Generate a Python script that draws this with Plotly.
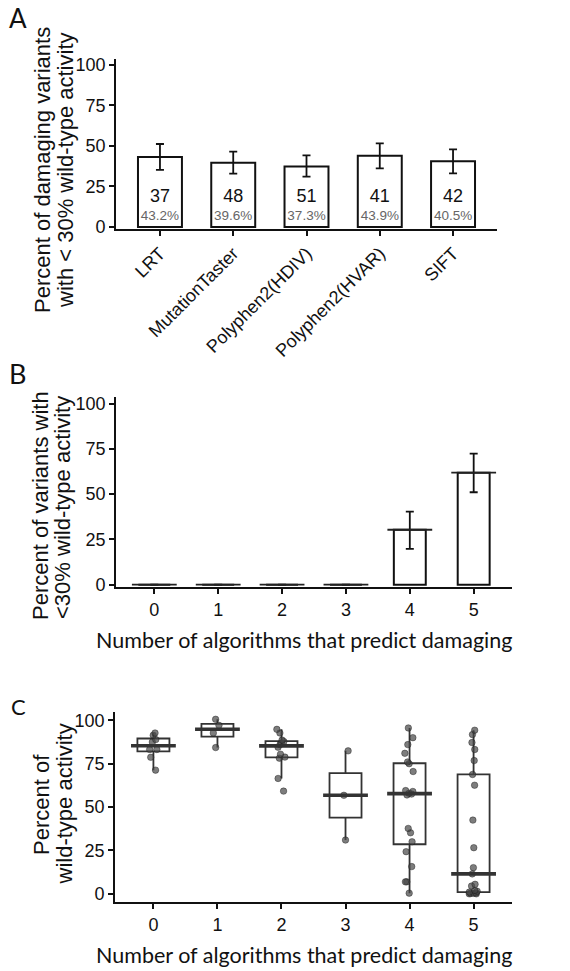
import numpy as np
import plotly.graph_objects as go

W, H = 570, 971

# ---------------- data ----------------
ALGORITHMS = ["LRT", "MutationTaster", "Polyphen2(HDIV)", "Polyphen2(HVAR)", "SIFT"]
A_PERCENT = [43.2, 39.6, 37.3, 43.9, 40.5]
A_COUNT = [37, 48, 51, 41, 42]
A_CI_LOW = [35.2, 32.9, 31.1, 36.2, 33.1]
A_CI_HIGH = [51.2, 46.5, 44.2, 51.6, 47.9]

N_PREDICT = [0, 1, 2, 3, 4, 5]
B_PERCENT = [0, 0, 0, 0, 30.3, 61.8]
B_CI_LOW = [0, 0, 0, 0, 19.8, 51.0]
B_CI_HIGH = [0, 0, 0, 0, 40.3, 72.3]

C_G0 = [71.3, 78.7, 83.2, 83.2, 87.5, 88.9, 91.4, 92.7]
C_G1 = [84.3, 92.7, 97.1, 100.6]
C_G2 = [59.2, 66.5, 78.2, 78.8, 80.5, 84.5, 86.0, 86.8, 87.8, 88.6, 92.7, 94.8]
C_G3 = [31.0, 56.8, 82.4]
C_G4 = [0.4, 6.9, 6.9, 15.7, 24.3, 30.0, 35.2, 37.7, 57.0, 57.5, 58.0, 59.0,
        59.5, 70.5, 75.0, 76.0, 81.0, 86.0, 90.0, 95.6]
C_G5 = [0.0, 0.0, 0.2, 0.3, 0.5, 1.0, 1.5, 2.0, 4.5, 5.5, 11.5, 15.1, 26.6,
        42.5, 62.6, 68.8, 76.8, 83.2, 87.2, 91.8, 94.3]
C_GROUPS = [C_G0, C_G1, C_G2, C_G3, C_G4, C_G5]

Y_TICKS = [0, 25, 50, 75, 100]

# ---------------- styles ----------------
TICK_FONT = "Liberation Sans, Arial, sans-serif"
TITLE_FONT = "Lato, sans-serif"
INK = "#111111"
BOX_INK = "#333333"
COUNT_Y = 18
PCT_Y = 6.2


def px_x(x):
    return x / W


def px_y(y):
    return 1 - y / H


fig = go.Figure()

# ---------------- panel A ----------------
a_plus = [h - p for h, p in zip(A_CI_HIGH, A_PERCENT)]
a_minus = [p - l for p, l in zip(A_PERCENT, A_CI_LOW)]
fig.add_trace(go.Bar(
    x=ALGORITHMS, y=A_PERCENT, width=0.6,
    marker=dict(color="white", line=dict(color=INK, width=2)),
    error_y=dict(type="data", symmetric=False, array=a_plus, arrayminus=a_minus,
                 color=INK, thickness=1.8, width=4),
    xaxis="x", yaxis="y", hoverinfo="skip"))
fig.add_trace(go.Scatter(
    x=ALGORITHMS, y=[COUNT_Y] * len(ALGORITHMS), mode="text",
    text=[str(n) for n in A_COUNT],
    textfont=dict(family=TICK_FONT, size=18, color=INK),
    xaxis="x", yaxis="y", hoverinfo="skip"))
fig.add_trace(go.Scatter(
    x=ALGORITHMS, y=[PCT_Y] * len(ALGORITHMS), mode="text",
    text=[f"{p:.1f}%" for p in A_PERCENT],
    textfont=dict(family=TICK_FONT, size=13.5, color="#666666"),
    xaxis="x", yaxis="y", hoverinfo="skip"))

# ---------------- panel B ----------------
b_plus = [h - p for h, p in zip(B_CI_HIGH, B_PERCENT)]
b_minus = [p - l for p, l in zip(B_PERCENT, B_CI_LOW)]
fig.add_trace(go.Bar(
    x=N_PREDICT, y=B_PERCENT, width=0.5,
    marker=dict(color="white", line=dict(color=INK, width=2)),
    error_y=dict(type="data", symmetric=False, array=b_plus, arrayminus=b_minus,
                 color=INK, thickness=1.8, width=4),
    xaxis="x2", yaxis="y2", hoverinfo="skip"))
# outline of the (possibly zero-height) bar tops
fig.add_trace(go.Scatter(
    x=N_PREDICT, y=B_PERCENT, mode="markers",
    marker=dict(symbol="line-ew", size=32, color=INK,
                line=dict(color="#222222", width=1.8)),
    xaxis="x2", yaxis="y2", hoverinfo="skip"))

# ---------------- panel C ----------------
q1, med, q3, lf, uf = [], [], [], [], []
for g in C_GROUPS:
    arr = np.array(g, dtype=float)
    a, m, b = np.percentile(arr, [25, 50, 75])
    iqr = b - a
    q1.append(a)
    med.append(m)
    q3.append(b)
    lf.append(arr[arr >= a - 1.5 * iqr].min())
    uf.append(arr[arr <= b + 1.5 * iqr].max())

fig.add_trace(go.Box(
    x=N_PREDICT, q1=q1, median=med, q3=q3, lowerfence=lf, upperfence=uf,
    width=0.5, whiskerwidth=0, boxpoints=False,
    fillcolor="white", line=dict(color=BOX_INK, width=1.8),
    xaxis="x3", yaxis="y3", hoverinfo="skip"))
fig.add_trace(go.Scatter(
    x=N_PREDICT, y=med, mode="markers",
    marker=dict(symbol="line-ew", size=32, color=BOX_INK,
                line=dict(color=BOX_INK, width=3.6)),
    xaxis="x3", yaxis="y3", hoverinfo="skip"))
pts_x = [n for n, g in zip(N_PREDICT, C_GROUPS) for _ in g]
pts_y = [v for g in C_GROUPS for v in g]
fig.add_trace(go.Box(
    x=pts_x, y=pts_y, boxpoints="all", jitter=0.35, pointpos=0, width=0.5,
    whiskerwidth=0, fillcolor="rgba(0,0,0,0)",
    line=dict(color="rgba(0,0,0,0)", width=0),
    marker=dict(size=6.5, color="rgba(70,70,70,0.7)",
                line=dict(color="rgba(20,20,20,0.5)", width=0.8)),
    xaxis="x3", yaxis="y3", hoverinfo="skip"))

# ---------------- axes ----------------
axis_common = dict(showline=True, linecolor=INK, linewidth=1.8, ticks="outside",
                   ticklen=5, tickwidth=1.5, tickcolor=INK, showgrid=False,
                   zeroline=False, mirror=False, automargin=False)

fig.update_layout(
    template="none",
    width=W, height=H, margin=dict(l=0, r=0, t=0, b=0, pad=0, autoexpand=False),
    paper_bgcolor="white", plot_bgcolor="white", showlegend=False,
    boxmode="overlay", barmode="overlay",
    xaxis=dict(domain=[px_x(116), px_x(497)], anchor="y", type="category",
               range=[-0.6, 4.6], tickangle=-45,
               tickfont=dict(family=TICK_FONT, size=18, color=INK), **axis_common),
    yaxis=dict(domain=[px_y(229), px_y(59)], anchor="x", range=[-1.3, 103.7],
               tickvals=Y_TICKS, tickfont=dict(family=TICK_FONT, size=18, color=INK),
               **axis_common),
    xaxis2=dict(domain=[px_x(116), px_x(512)], anchor="y2", range=[-0.6, 5.6],
                tickvals=N_PREDICT, tickfont=dict(family=TICK_FONT, size=18, color=INK),
                **axis_common),
    yaxis2=dict(domain=[px_y(587), px_y(397)], anchor="x2", range=[-1.3, 103.6],
                tickvals=Y_TICKS, tickfont=dict(family=TICK_FONT, size=18, color=INK),
                **axis_common),
    xaxis3=dict(domain=[px_x(115), px_x(512)], anchor="y3", range=[-0.6, 5.6],
                tickvals=N_PREDICT, tickfont=dict(family=TICK_FONT, size=18, color=INK),
                **axis_common),
    yaxis3=dict(domain=[px_y(902), px_y(712)], anchor="x3", range=[-4.7, 104.8],
                tickvals=Y_TICKS, tickfont=dict(family=TICK_FONT, size=18, color=INK),
                **axis_common),
)

# ---------------- titles & panel letters ----------------
def ann(text, x, y, size, family, angle=0, color=INK):
    fig.add_annotation(text=text, x=px_x(x), y=px_y(y), xref="paper", yref="paper",
                       showarrow=False, textangle=angle, xanchor="center",
                       yanchor="middle", font=dict(family=family, size=size, color=color))

ann("Percent of damaging variants", 42, 170, 22, TICK_FONT, -90)
ann("with < 30% wild-type activity", 65, 170, 22, TICK_FONT, -90)
ann("Percent of variants with", 41, 506, 22, TICK_FONT, -90)
ann("<30% wild-type activity", 63, 508, 22, TICK_FONT, -90)
ann("Percent of", 41, 805, 22, TICK_FONT, -90)
ann("wild-type activity", 63.5, 804, 22, TICK_FONT, -90)
ann("Number of algorithms that predict damaging", 304, 640, 21.5, TITLE_FONT)
ann("Number of algorithms that predict damaging", 304, 955, 21.5, TITLE_FONT)
ann("A", 18, 18, 26, TITLE_FONT)
ann("B", 17, 373, 27, TITLE_FONT)
ann("C", 18, 706, 22, TITLE_FONT)

fig.write_html(
    "out.html",
    config={"displayModeBar": False},
    post_script="document.body.style.margin='0';document.body.style.padding='0';"
                "document.documentElement.style.overflow='hidden';",
)
